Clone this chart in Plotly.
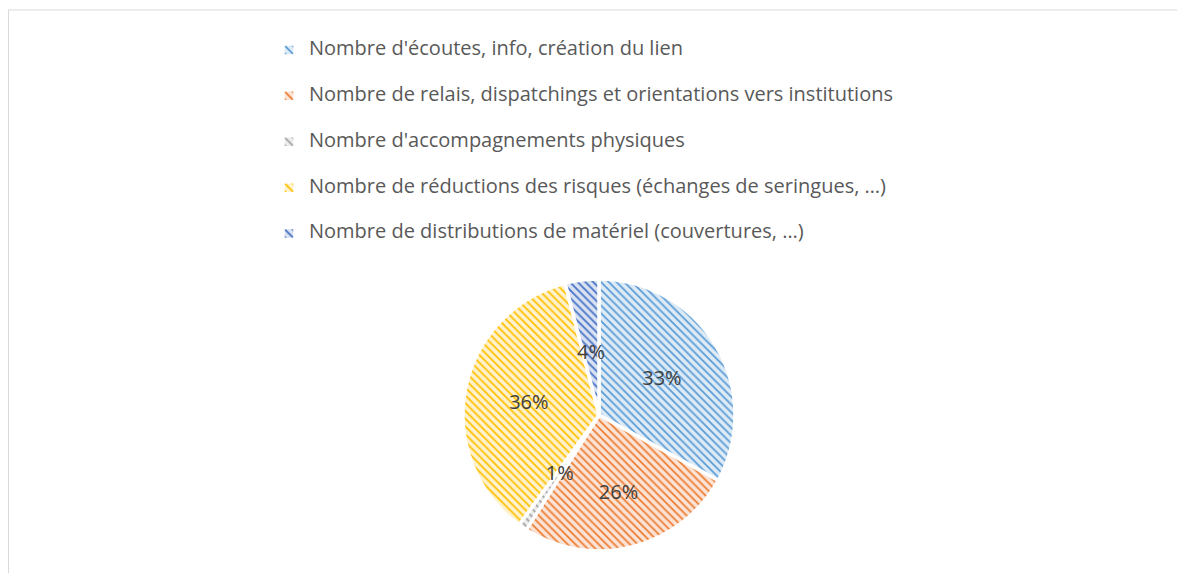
import plotly.graph_objects as go

labels = [
    "Nombre d'écoutes, info, création du lien",
    "Nombre de relais, dispatchings et orientations vers institutions",
    "Nombre d'accompagnements physiques",
    "Nombre de réductions des risques (échanges de seringues, …)",
    "Nombre de distributions de matériel (couvertures, …)",
]
values = [33, 26, 1, 36, 4]
colors = ["#5B9BD5", "#ED7D31", "#A5A5A5", "#FFC000", "#4472C4"]
bg_colors = ["#DDEBF7", "#FBE3D6", "#EDEDED", "#FFF2CC", "#D9E1F2"]

# which slices get their label on the outer ring vs. the inner (small-slice) ring
outer_text = ["%{percent:.0%}", "%{percent:.0%}", "", "%{percent:.0%}", ""]
inner_text = ["", "", "%{percent:.0%}", "", "%{percent:.0%}"]

W, H = 1185, 573
cx, cy, R = 591, 407, 136
R2 = 72

legend_labels = ['<span style="font-size:20px;baseline-shift:8px">%s</span>' % t for t in labels]

FONT = "Open Sans, Lato, sans-serif"

def dom(r):
    return dict(x=[(cx - r) / W, (cx + r) / W], y=[1 - (cy + r) / H, 1 - (cy - r) / H])

fig = go.Figure()
fig.add_trace(go.Pie(
    labels=legend_labels,
    values=values,
    sort=False,
    direction="clockwise",
    rotation=0,
    texttemplate=outer_text,
    textposition="inside",
    insidetextorientation="horizontal",
    textfont=dict(family=FONT, size=20, color="#404040"),
    marker=dict(
        colors=bg_colors,
        line=dict(color="white", width=3.5),
        pattern=dict(shape="\\", fgcolor=colors, bgcolor=bg_colors, size=5.5, solidity=0.32),
    ),
    domain=dom(R),
    hoverinfo="label+percent",
))
fig.add_trace(go.Pie(
    labels=legend_labels,
    values=values,
    sort=False,
    direction="clockwise",
    rotation=0,
    texttemplate=inner_text,
    textposition="inside",
    insidetextorientation="horizontal",
    textfont=dict(family=FONT, size=20, color="#404040"),
    marker=dict(colors=["rgba(0,0,0,0)"] * len(values), line=dict(width=0)),
    domain=dom(R2),
    showlegend=False,
    hoverinfo="skip",
))

fig.update_layout(
    width=W, height=H,
    margin=dict(l=0, r=0, t=0, b=0),
    paper_bgcolor="white",
    plot_bgcolor="white",
    uniformtext=dict(minsize=20, mode="show"),
    showlegend=True,
    legend=dict(
        x=261 / W, xanchor="left",
        y=1 - 14 / H, yanchor="top",
        font=dict(family=FONT, size=33, color="#595959"),
        bgcolor="rgba(0,0,0,0)",
        traceorder="normal",
    ),
    shapes=[
        dict(type="line", xref="paper", yref="paper", x0=0, x1=1, y0=1 - 2 / H, y1=1 - 2 / H,
             line=dict(color="#D9D9D9", width=1)),
        dict(type="line", xref="paper", yref="paper", x0=0, x1=0, y0=0, y1=1 - 2 / H,
             line=dict(color="#D9D9D9", width=2)),
    ],
)

fig.write_html("out.html")
